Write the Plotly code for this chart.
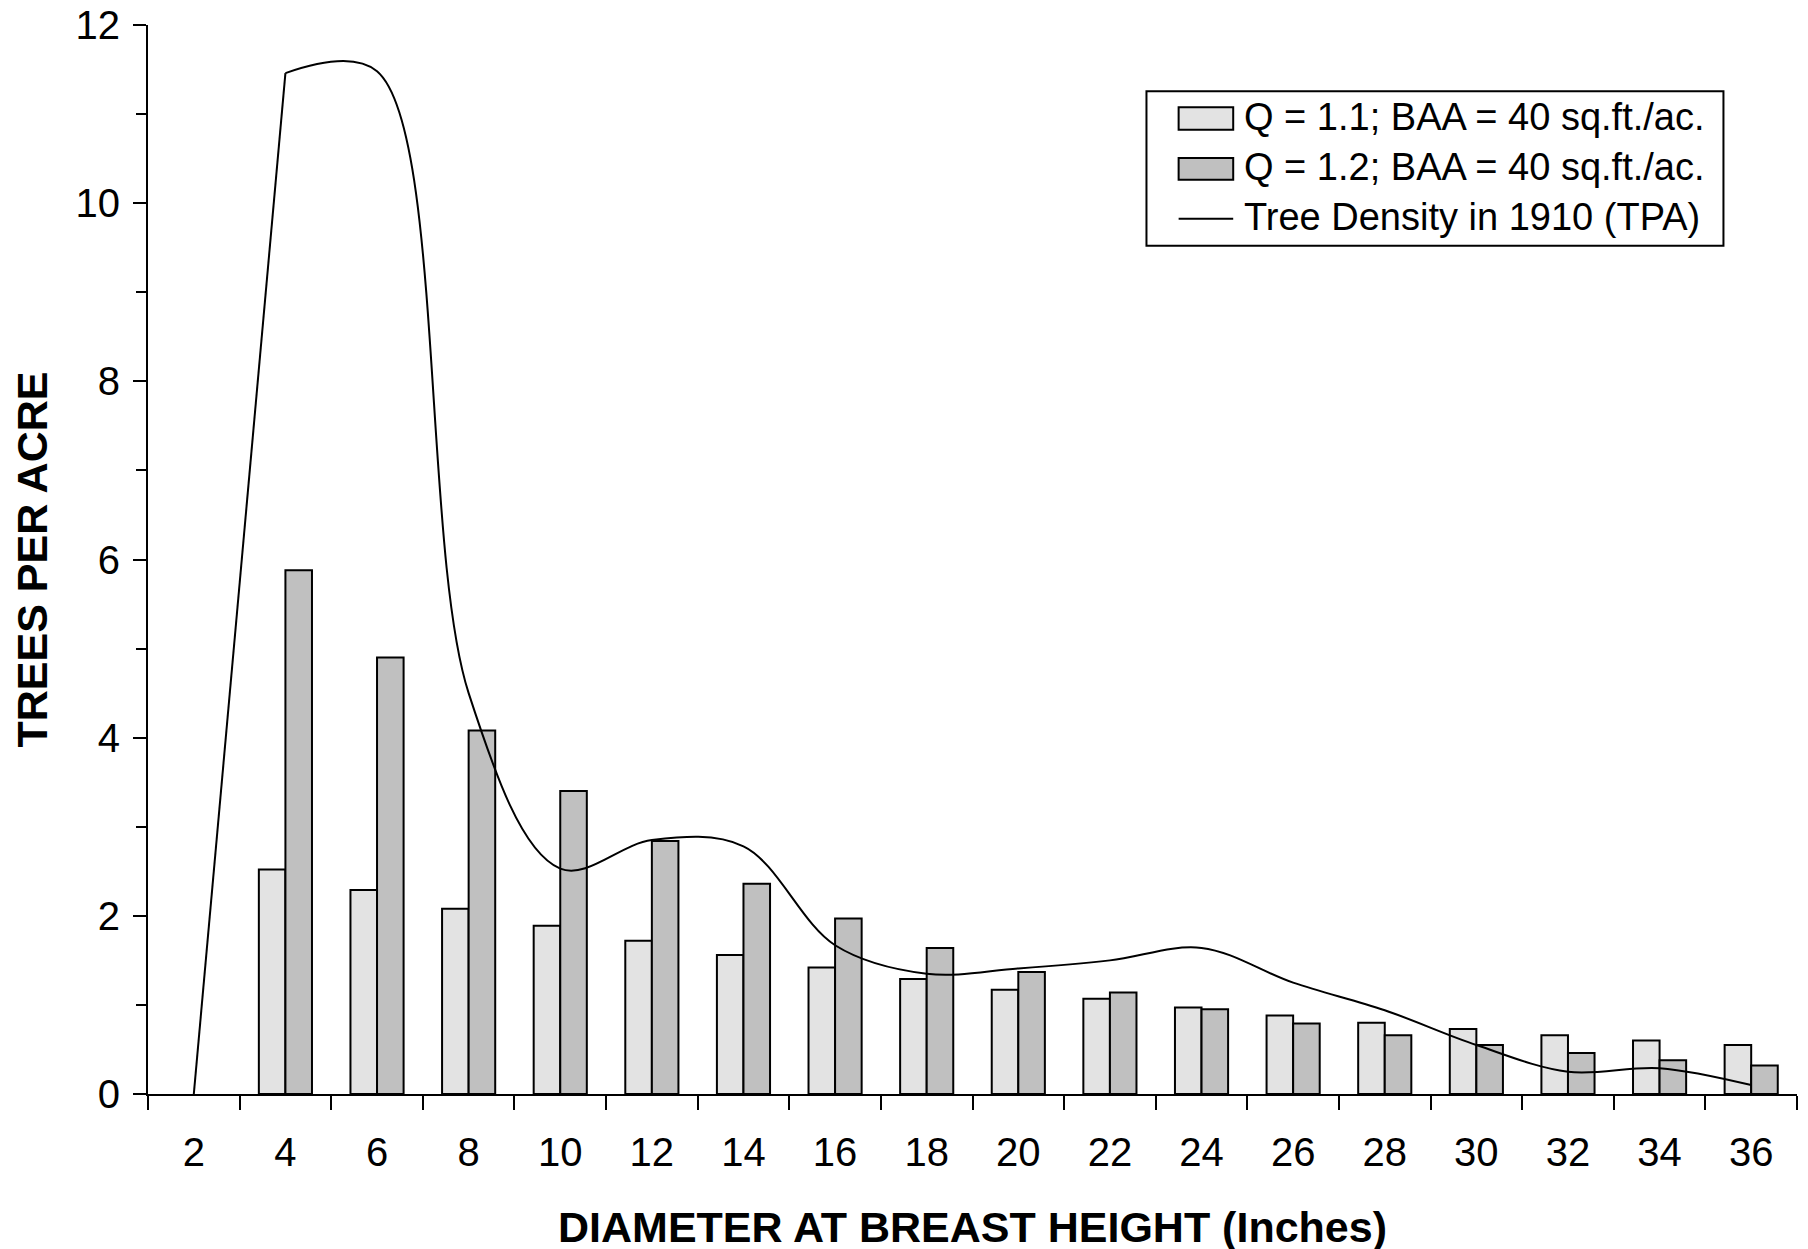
import plotly.graph_objects as go

# DBH classes (inches)
dbh = ["2", "4", "6", "8", "10", "12", "14", "16", "18", "20",
       "22", "24", "26", "28", "30", "32", "34", "36"]

# trees per acre (no bars at 2 in.)
q11 = [None, 2.52, 2.29, 2.08, 1.89, 1.72, 1.56, 1.42, 1.29, 1.17,
       1.07, 0.97, 0.88, 0.80, 0.73, 0.66, 0.60, 0.55]
q12 = [None, 5.88, 4.90, 4.08, 3.40, 2.84, 2.36, 1.97, 1.64, 1.37,
       1.14, 0.95, 0.79, 0.66, 0.55, 0.46, 0.38, 0.32]
tpa_1910 = [0, 11.46, 11.48, 4.50, 2.53, 2.85, 2.78, 1.67, 1.35, 1.41,
            1.50, 1.64, 1.25, 0.94, 0.55, 0.25, 0.29, 0.10]

legend_labels = ["Q = 1.1; BAA = 40 sq.ft./ac.",
                 "Q = 1.2; BAA = 40 sq.ft./ac.",
                 "Tree Density in 1910 (TPA)"]

FONT = "Arial, Liberation Sans, sans-serif"
LIGHT = "#e3e3e3"
DARK = "#c0c0c0"

fig = go.Figure()
fig.add_trace(go.Bar(x=dbh, y=q11, name=legend_labels[0], marker_color=LIGHT,
                     marker_line=dict(color="black", width=2)))
fig.add_trace(go.Bar(x=dbh, y=q12, name=legend_labels[1], marker_color=DARK,
                     marker_line=dict(color="black", width=2)))
# first rise is nearly straight in the original, the rest is smoothed
fig.add_trace(go.Scatter(x=dbh[:2], y=tpa_1910[:2], mode="lines",
                         line=dict(color="black", width=2)))
fig.add_trace(go.Scatter(x=dbh[1:], y=tpa_1910[1:], name=legend_labels[2], mode="lines",
                         line=dict(color="black", width=2, shape="spline", smoothing=1)))

# page body has an 8px margin, so margins are shifted to compensate
fig.update_layout(
    width=1808, height=1249,
    margin=dict(l=140, r=19, t=17, b=163),
    paper_bgcolor="white", plot_bgcolor="white",
    font=dict(family=FONT, size=40, color="black"),
    barmode="group", bargap=0.42, bargroupgap=0,
    showlegend=False,
)

fig.update_xaxes(
    type="category", tickson="boundaries", automargin=False,
    showline=True, linecolor="black", linewidth=2,
    ticks="outside", ticklen=14, tickwidth=2, tickcolor="black",
    ticklabelstandoff=22, showgrid=False,
    title=dict(text="<b>DIAMETER AT BREAST HEIGHT (Inches)</b>",
               font=dict(size=43), standoff=39),
)
fig.update_yaxes(
    range=[0, 12], dtick=2, automargin=False, ticklabeloverflow="allow",
    showline=True, linecolor="black", linewidth=2,
    ticks="outside", ticklen=13, tickwidth=2, tickcolor="black",
    minor=dict(dtick=1, ticks="outside", ticklen=10, tickwidth=2, tickcolor="black"),
    ticklabelstandoff=5, showgrid=False, zeroline=False,
    title=dict(text="<b>TREES PER ACRE</b>", font=dict(size=43), standoff=14),
)

# hand-drawn legend box (large swatches like the original)
fig.add_shape(type="rect", xref="paper", yref="paper", x0=0.6055, x1=0.9554,
              y0=0.7936, y1=0.938, line=dict(color="black", width=2), fillcolor="white")
sw_x0, sw_x1 = 0.625, 0.6581
fig.add_shape(type="rect", xref="paper", yref="paper", x0=sw_x0, x1=sw_x1,
              y0=0.9021, y1=0.923, line=dict(color="black", width=2), fillcolor=LIGHT)
fig.add_shape(type="rect", xref="paper", yref="paper", x0=sw_x0, x1=sw_x1,
              y0=0.8553, y1=0.8756, line=dict(color="black", width=2), fillcolor=DARK)
fig.add_shape(type="line", xref="paper", yref="paper", x0=sw_x0, x1=sw_x1,
              y0=0.8188, y1=0.8188, line=dict(color="black", width=2))
for label, ty in zip(legend_labels, [0.9143, 0.8675, 0.8207]):
    fig.add_annotation(xref="paper", yref="paper", x=0.6637, y=ty, text=label,
                       showarrow=False, xanchor="left", yanchor="middle",
                       font=dict(size=38))

fig.write_html("out.html")
